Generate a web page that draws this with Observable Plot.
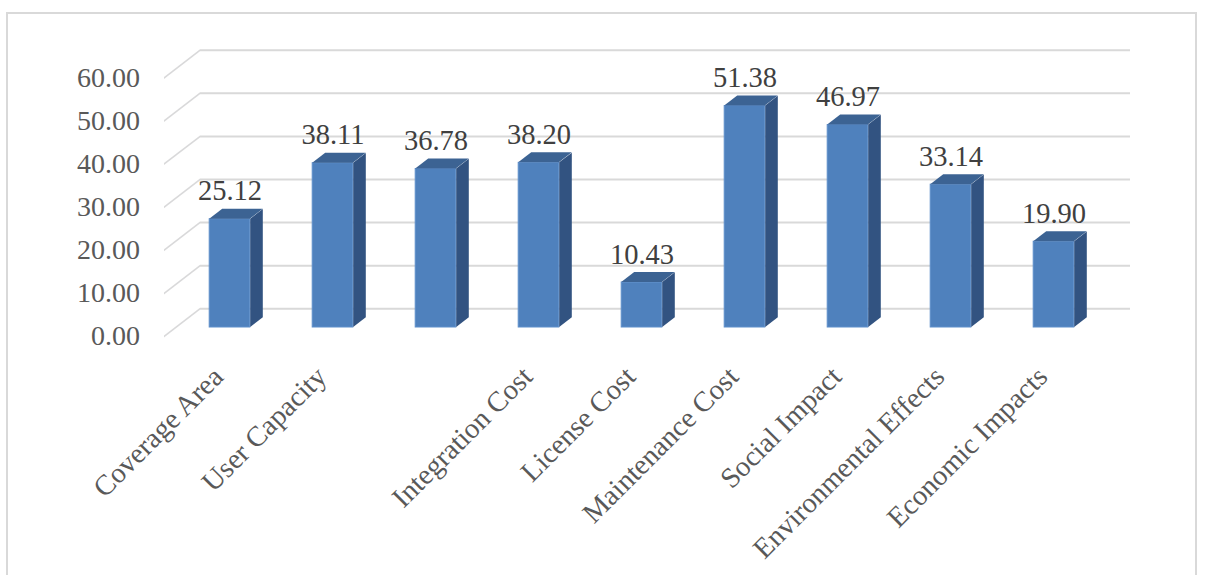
<!DOCTYPE html>
<html>
<head>
<meta charset="utf-8">
<script src="https://cdn.jsdelivr.net/npm/d3@7"></script>
<script src="https://cdn.jsdelivr.net/npm/@observablehq/plot@0.6"></script>
<style>
  html, body { margin: 0; padding: 0; background: #ffffff; }
  #wrap { position: relative; width: 1205px; height: 575px; overflow: hidden; }
  #frame { position: absolute; left: 6px; top: 12px; width: 1191px; height: 600px;
           border: 2px solid #d9d9d9; box-sizing: border-box; pointer-events: none; }
  /* 3D faces: skew the flat rects/lines produced by Plot */
  g[stroke="#d9d9da"] line { transform-box: fill-box; transform-origin: left center; transform: skewY(-37.57deg); }
  g[fill="#325381"] rect { transform-box: fill-box; transform-origin: left center; transform: skewY(-37.57deg); }
  g[fill="#3c6393"] rect { transform-box: fill-box; transform-origin: left bottom; transform: skewX(-52.43deg); }
</style>
</head>
<body>
<div id="wrap"><div id="frame"></div></div>
<script>
const categories = ["Coverage Area", "User Capacity", "", "Integration Cost", "License Cost",
                    "Maintenance Cost", "Social Impact", "Environmental Effects", "Economic Impacts"];
const values = [25.12, 38.11, 36.78, 38.20, 10.43, 51.38, 46.97, 33.14, 19.90];
const yTicks = [0, 10, 20, 30, 40, 50, 60];

const rows = categories.map((c, i) => ({category: c, value: values[i]}));
const fmt = d3.format(".2f");
const serif = "'Liberation Serif', 'Times New Roman', serif";

const chart = Plot.plot({
  width: 1205,
  height: 575,
  marginLeft: 176.4,
  marginRight: 98.6,
  marginTop: 68.4,
  marginBottom: 248,
  x: {type: "band", domain: categories, padding: 0, axis: null},
  y: {domain: [0, 60], axis: null, label: null},
  style: {fontFamily: serif, background: "transparent", overflow: "visible"},
  marks: [
    // back wall gridlines
    Plot.tickY(yTicks, {y: d => d, dx: 23.6, dy: -18.7, stroke: "#d9d9d9", strokeWidth: 2}),
    // floor/side diagonals from front plane to back wall
    Plot.tickY(yTicks, {y: d => d, dx: -12.4, dy: 9, insetRight: 894, stroke: "#d9d9da", strokeWidth: 2}),
    // bar front faces
    Plot.barY(rows, {x: "category", y: "value", insetLeft: 31.2, insetRight: 31.2,
                     fill: "#4f81bd", stroke: "#5f8fcb", strokeWidth: 1}),
    // bar side faces
    Plot.barY(rows, {x: "category", y: "value", insetLeft: 72.2, insetRight: 18.2, fill: "#325381"}),
    // bar top faces
    Plot.barY(rows, {x: "category", y1: "value", y2: "value", insetLeft: 31.2, insetRight: 31.2,
                     insetTop: -10, insetBottom: 0, fill: "#3c6393"}),
    // value labels
    Plot.text(rows, {x: "category", y: "value", text: d => fmt(d.value), lineAnchor: "bottom",
                     dy: -19, fontSize: 28.5, fill: "#404040", fontFamily: serif}),
    // y axis labels (front plane)
    Plot.axisY(yTicks, {anchor: "left", label: null, tickSize: 0, tickPadding: 37, dy: 9, tickFormat: fmt,
                        fontSize: 28, color: "#595959", fill: "#595959", fontFamily: serif}),
    // category labels
    Plot.text(categories, {x: d => d, frameAnchor: "bottom", rotate: -45, textAnchor: "end",
                           lineAnchor: "bottom", dx: -5, dy: 51, fontSize: 28.5, fill: "#595959",
                           fontFamily: serif})
  ]
});
chart.style.position = "absolute";
chart.style.left = "0px";
chart.style.top = "0px";
document.getElementById("wrap").appendChild(chart);
</script>
</body>
</html>
